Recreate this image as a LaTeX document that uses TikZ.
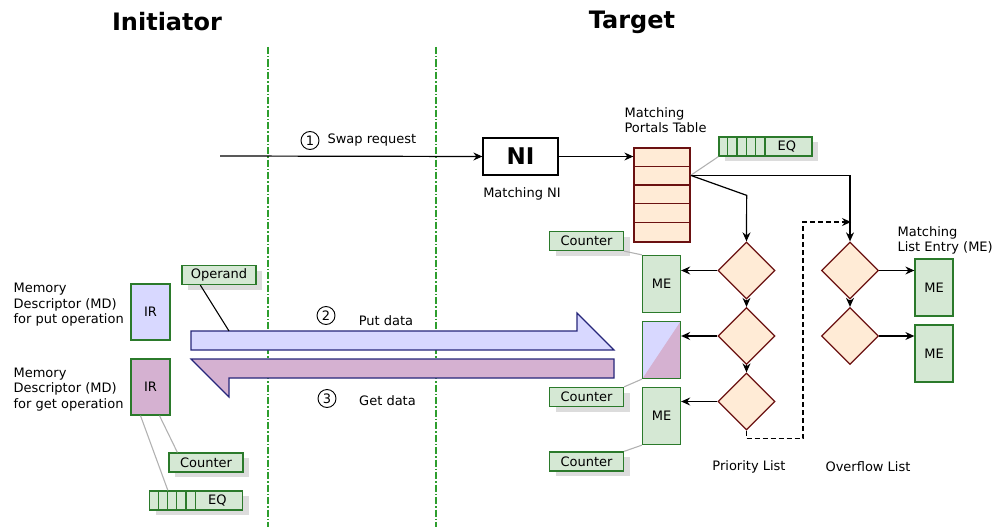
\documentclass[tikz,border=0pt]{standalone}
\usepackage{fontspec}
\setmainfont{DejaVu Sans}
\usetikzlibrary{arrows.meta}
\usetikzlibrary{shapes.geometric}
\usetikzlibrary{positioning}

\definecolor{boxfill}{HTML}{D5E8D4}
\definecolor{boxline}{HTML}{2B7A2B}
\definecolor{listfill}{HTML}{FFEBD6}
\definecolor{listline}{HTML}{6B1111}
\definecolor{putfill}{HTML}{D8D8FF}
\definecolor{getfill}{HTML}{D5B1D1}
\definecolor{flowline}{HTML}{26267A}
\definecolor{shade}{HTML}{DCDCDC}
\definecolor{sepline}{HTML}{2E9E2E}

\begin{document}
\begin{tikzpicture}[x=1pt,y=-1pt,line width=1.2pt,
  font=\fontsize{13}{15.5}\selectfont,
  >={Stealth[length=9pt,width=8pt,inset=3pt]},
  txt/.style={inner sep=0pt,align=left},
  num/.style={circle,draw,line width=0.9pt,inner sep=0pt,minimum size=18pt},
  shadowed/.style={preaction={fill=shade,transform canvas={shift={(6pt,-5pt)}}}},
  greenbox/.style={draw=boxline,fill=boxfill,line width=1.3pt,inner sep=0pt},
  tagbox/.style={greenbox,shadowed,minimum width=74pt,minimum height=19pt},
  eqbox/.style={greenbox,shadowed,minimum width=93pt,minimum height=19pt,text width=61pt,align=right},
  mebox/.style={greenbox,minimum width=38pt,minimum height=57pt},
  irbox/.style={draw=boxline,line width=1.3pt,inner sep=0pt,minimum width=39pt,minimum height=56pt},
  choice/.style={diamond,aspect=1,draw=listline,fill=listfill,line width=1.3pt,inner sep=0pt,minimum size=57pt},
  link/.style={gray!60,line width=1.1pt},
  sep/.style={sepline,line width=1.1pt,dash pattern=on 7pt off 2pt on 1.5pt off 2pt}]

\useasboundingbox (0,0) rectangle (995,527);

% titles and the two dividers
\node[font=\fontsize{24}{28}\selectfont\bfseries] (initiator) at (167,22) {Initiator};
\node[font=\fontsize{24}{28}\selectfont\bfseries] (target) at (632,22) {Target};
\draw[sep] (268,47) -- (268,527);
\draw[sep] (436,47) -- (436,527);

% initiator side
\node[irbox,fill=putfill] (irput) at (150.5,312) {IR};
\node[irbox,fill=getfill] (irget) at (150.5,387) {IR};
\node[txt,anchor=west] (mdput) at (13,305) {Memory\\Descriptor (MD)\\for put operation};
\node[txt,anchor=west] (mdget) at (13,389.5) {Memory\\Descriptor (MD)\\for get operation};
\node[tagbox] (operand) at (219,275) {Operand};
\node[tagbox] (cntl) at (206,462.5) {Counter};
\node[eqbox] (eql) at (196,500.5) {EQ};
\foreach \c in {1,...,5}
  \draw[boxline,line width=1.3pt] ([xshift=\c*9.3pt]eql.north west) -- ([xshift=\c*9.3pt]eql.south west);
\draw[link] ([xshift=9pt]irget.south) -- ([xshift=9pt]cntl.north west);
\draw[link] ([xshift=-10pt]irget.south) -- ([xshift=19pt]eql.north west);

% swap request
\coordinate (swapstart) at (220,156);
\node[draw,line width=1.3pt,minimum width=75pt,minimum height=37pt,font=\fontsize{23}{26}\selectfont\bfseries] (ni) at (520.5,156.5) {NI};
\node[txt] (nilabel) at (522,194) {Matching NI};
\draw[->] (swapstart) -- (ni.west);
\node[num] (n1) at (310,140.5) {1};
\node[txt,anchor=west] (swaplabel) at (327,140) {Swap request};

% put and get data
\filldraw[fill=putfill,draw=flowline,line width=1.1pt] (191,331) -- (577,331) -- (577,313) -- (614,350) -- (191,350) -- cycle;
\filldraw[fill=getfill,draw=flowline,line width=1.1pt] (614,359) -- (191,359) -- (229,397) -- (229,378) -- (614,378) -- cycle;
\coordinate (putedge) at (229,331);
\draw[line width=1.1pt] ([xshift=19pt]operand.south west) -- (putedge);
\node[num] (n2) at (326,315.5) {2};
\node[txt] (putlabel) at (386,321) {Put data};
\node[num] (n3) at (327,398.5) {3};
\node[txt] (getlabel) at (387.5,400.5) {Get data};

% portals table
\node[draw=listline,fill=listfill,line width=1.3pt,minimum width=56pt,minimum height=94pt,inner sep=0pt] (mpt) at (662,195) {};
\foreach \r in {1,...,4}
  \draw[listline,line width=1.3pt] ([yshift=-\r*18.8pt]mpt.north west) -- ([yshift=-\r*18.8pt]mpt.north east);
\node[txt,anchor=west] (mptlabel) at (624,120) {Matching\\Portals Table};
\draw[->] (ni.east) -- (ni.east -| mpt.west);
\coordinate (row2) at ([yshift=-28pt]mpt.north east);
\node[eqbox] (eqr) at (765.5,146.5) {EQ};
\foreach \c in {1,...,5}
  \draw[boxline,line width=1.3pt] ([xshift=\c*9.3pt]eqr.north west) -- ([xshift=\c*9.3pt]eqr.south west);
\draw[link] (row2) -- (eqr.south west);

% priority list
\node[choice] (pd1) at (746.5,270.5) {};
\node[choice] (pd2) at (746.5,336) {};
\node[choice] (pd3) at (746.5,401.5) {};
\node[mebox] (me1) at (661.5,284) {ME};
\node[mebox,fill=putfill,path picture={\fill[getfill] (path picture bounding box.south west) -- (path picture bounding box.north east) -- (path picture bounding box.south east) -- cycle;}] (me2) at (661.5,350) {};
\node[mebox] (me3) at (661.5,416) {ME};
\node[tagbox] (cnt1) at (586.5,241) {Counter};
\node[tagbox] (cnt2) at (586.5,397) {Counter};
\node[tagbox] (cnt3) at (586.5,461.5) {Counter};
\draw[link] (cnt1.south east) -- (me1.north west);
\draw[link] (cnt2.north east) -- (me2.south west);
\draw[link] (cnt3.north east) -- (me3.south west);
\draw[->] (row2) -- ++(56,20) -- (pd1.north);
\draw[->] (pd1) -- (pd2);
\draw[->] (pd2) -- (pd3);
\draw[->] (pd1.west) -- (pd1.west -| me1.east);
\draw[->] (pd2.west) -- (pd2.west -| me2.east);
\draw[->] (pd3.west) -- (pd3.west -| me3.east);
\node[txt] (prio) at (749,467) {Priority List};

% overflow list
\node[choice] (od1) at (850,270.5) {};
\node[choice] (od2) at (850,336) {};
\node[mebox] (ome1) at (934,287.5) {ME};
\node[mebox] (ome2) at (934,353.5) {ME};
\draw[->] (row2) -| (od1.north);
\draw[->] (od1) -- (od2);
\draw[->] (od1.east) -- (od1.east -| ome1.west);
\draw[->] (od2.east) -- (od2.east -| ome2.west);
\coordinate (ovin) at (851,222);
\draw[->,dash pattern=on 5pt off 3pt,line width=1.1pt] (pd3.south) -- ++(0,8) -- ++(56.5,0) |- (ovin);
\node[txt,anchor=west] (melabel) at (897,240.5) {Matching\\List Entry (ME)};
\node[txt] (over) at (868,467) {Overflow List};

\end{tikzpicture}
\end{document}
